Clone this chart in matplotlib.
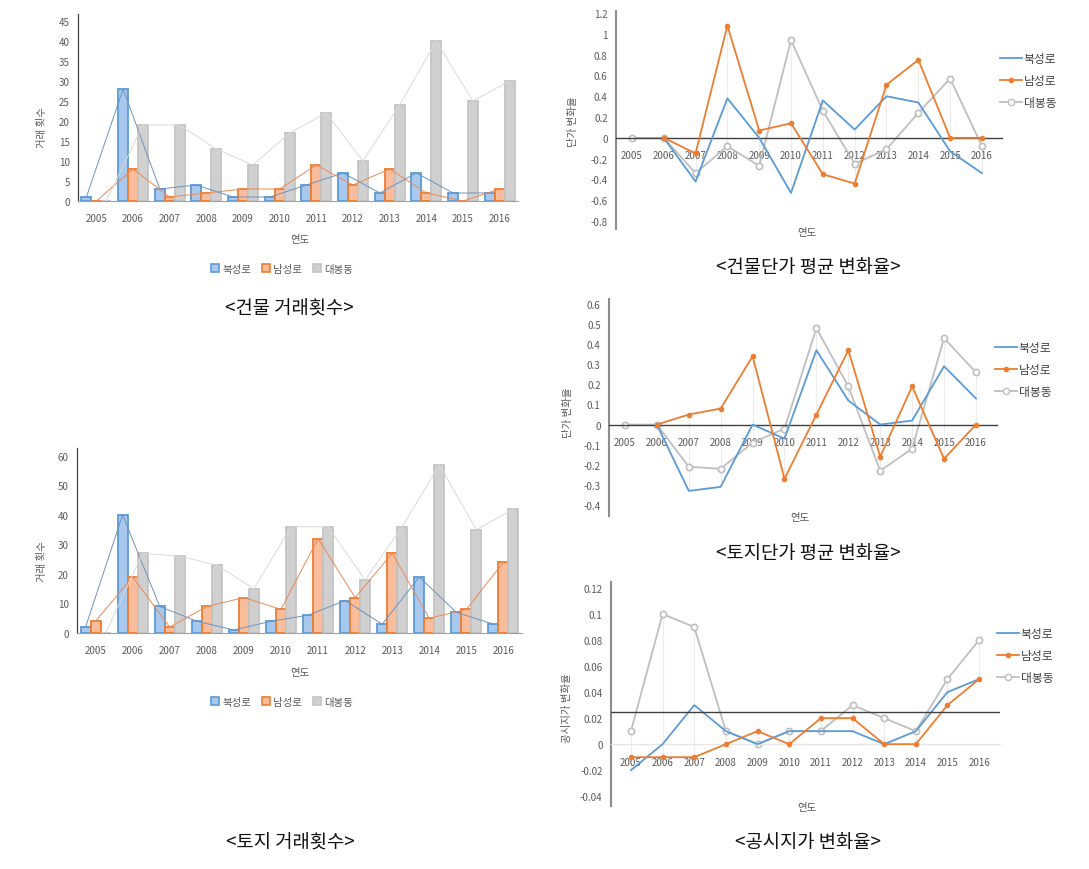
import matplotlib.pyplot as plt
import matplotlib.patches as patches
from matplotlib.lines import Line2D
import numpy as np

plt.rcParams['font.family'] = ['Noto Sans CJK KR', 'DejaVu Sans']

years = ['2005', '2006', '2007', '2008', '2009', '2010',
         '2011', '2012', '2013', '2014', '2015', '2016']
areas = ['북성로', '남성로', '대봉동']
nan = np.nan

# 건물 거래횟수
bld_cnt_buk = [1, 28, 3, 4, 1, 1, 4, 7, 2, 7, 2, 2]
bld_cnt_nam = [0, 8, 1, 2, 3, 3, 9, 4, 8, 2, 0, 3]
bld_cnt_dae = [0, 19, 19, 13, 9, 17, 22, 10, 24, 40, 25, 30]

# 토지 거래횟수
land_cnt_buk = [2, 40, 9, 4, 1, 4, 6, 11, 3, 19, 7, 3]
land_cnt_nam = [4, 19, 2, 9, 12, 8, 32, 12, 27, 5, 8, 24]
land_cnt_dae = [0, 27, 26, 23, 15, 36, 36, 18, 36, 57, 35, 42]

# 건물단가 평균 변화율
bld_rate_buk = [nan, 0, -0.42, 0.38, 0.0, -0.53, 0.36, 0.08, 0.40, 0.34, -0.13, -0.34]
bld_rate_nam = [nan, 0, -0.15, 1.08, 0.07, 0.14, -0.35, -0.44, 0.51, 0.75, 0, 0]
bld_rate_dae = [0, 0, -0.34, -0.08, -0.27, 0.94, 0.26, -0.25, -0.11, 0.24, 0.57, -0.08]

# 토지단가 평균 변화율
land_rate_buk = [nan, 0, -0.33, -0.31, 0.0, -0.07, 0.37, 0.12, 0.0, 0.02, 0.29, 0.13]
land_rate_nam = [nan, 0, 0.05, 0.08, 0.34, -0.27, 0.05, 0.37, -0.16, 0.19, -0.17, 0]
land_rate_dae = [0, 0, -0.21, -0.22, -0.09, -0.02, 0.48, 0.19, -0.23, -0.12, 0.43, 0.26]

# 공시지가 변화율
price_rate_buk = [-0.02, 0, 0.03, 0.01, 0, 0.01, 0.01, 0.01, 0, 0.01, 0.04, 0.05]
price_rate_nam = [-0.01, -0.01, -0.01, 0, 0.01, 0, 0.02, 0.02, 0, 0, 0.03, 0.05]
price_rate_dae = [0.01, 0.10, 0.09, 0.01, 0, 0.01, 0.01, 0.03, 0.02, 0.01, 0.05, 0.08]
price_ref_level = 0.0244

W, H = 1089, 870
fig = plt.figure(figsize=(W / 100, H / 100), dpi=100)

TXT = '#595959'
BLUE, ORANGE, GRAY = '#5b9bd5', '#ed7d31', '#bfbfbf'


def box(x0, y0, x1, y1):
    return [x0 / W, 1 - y1 / H, (x1 - x0) / W, (y1 - y0) / H]


def ftext(x, y, s, **kw):
    kw.setdefault('ha', 'center')
    kw.setdefault('va', 'center')
    fig.text(x / W, 1 - y / H, s, **kw)


def bar_chart(rect, series, ylim, ystep, ymax_tick):
    ax = fig.add_axes(rect)
    x = np.arange(len(years))
    fills = ['#a9c8ee', '#f9bd9c', '#d0d0d0']
    edges = [BLUE, ORANGE, '#c4c4c4']
    lines = ['#6f93bd', '#eb8a55', '#dadada']
    w = 0.27
    for i, vals in enumerate(series):
        off = (i - 1) * w
        ax.bar(x + off, vals, width=w, color=fills[i], edgecolor=edges[i],
               linewidth=1.3, zorder=2)
        ax.plot(x + off, vals, color=lines[i], lw=0.7, zorder=3)
    ax.set_xlim(-0.5, 11.5)
    ax.set_ylim(*ylim)
    ax.set_yticks(np.arange(0, ymax_tick + 1, ystep))
    ax.set_xticks(x)
    ax.set_xticklabels(years)
    ax.tick_params(length=0, labelsize=7, colors=TXT)
    ax.tick_params(axis='x', pad=9)
    ax.tick_params(axis='y', pad=6)
    for s in ['top', 'right']:
        ax.spines[s].set_visible(False)
    ax.spines['left'].set_color('#404040')
    ax.spines['left'].set_linewidth(0.9)
    ax.spines['bottom'].set_color('#a0a0a0')
    ax.patch.set_alpha(0)
    return ax


def bar_legend(cx, cy):
    fills = ['#a9c8ee', '#f9bd9c', '#d0d0d0']
    edges = [BLUE, ORANGE, '#c4c4c4']
    handles = [patches.Patch(facecolor=f, edgecolor=e, lw=1.2) for f, e in zip(fills, edges)]
    fig.legend(handles, areas, loc='center', bbox_to_anchor=(cx / W, 1 - cy / H),
               ncol=3, frameon=False, fontsize=7.5, handlelength=0.8, handleheight=0.8,
               handletextpad=0.3, columnspacing=1.0, labelcolor=TXT)


def line_chart(rect, series, xlim, ylim, yticks, fmt, zero_color, ref=None):
    ax = fig.add_axes(rect)
    x = np.arange(len(years))
    arr = np.array(series, dtype=float)
    ax.vlines(x, np.nanmin(arr, axis=0), np.nanmax(arr, axis=0), color='#ececec',
              lw=0.8, zorder=1)
    ax.plot(x, series[0], color=BLUE, lw=1.3, zorder=3)
    ax.plot(x, series[1], color=ORANGE, lw=1.3, marker='o', ms=3, zorder=4)
    ax.plot(x, series[2], color=GRAY, lw=1.3, marker='o', ms=4.5, mfc='white',
            mec=GRAY, mew=1.2, zorder=2)
    if ref is not None:
        ax.axhline(ref, color='#404040', lw=1.0, zorder=5)
    ax.set_xlim(*xlim)
    ax.set_ylim(*ylim)
    ax.set_yticks(yticks)
    ax.set_yticklabels([fmt(v) for v in yticks])
    ax.set_xticks(x)
    ax.set_xticklabels(years)
    ax.tick_params(length=0, labelsize=7, colors=TXT)
    ax.tick_params(axis='x', pad=9)
    ax.tick_params(axis='y', pad=6)
    for s in ['top', 'right']:
        ax.spines[s].set_visible(False)
    ax.spines['bottom'].set_position(('data', 0))
    ax.spines['bottom'].set_color(zero_color)
    ax.spines['bottom'].set_linewidth(1.0)
    ax.spines['left'].set_color('#8c8c8c')
    ax.spines['left'].set_linewidth(1.5)
    ax.patch.set_alpha(0)
    return ax


def line_legend(x, y):
    handles = [Line2D([], [], color=BLUE, lw=1.3),
               Line2D([], [], color=ORANGE, lw=1.3, marker='o', ms=3),
               Line2D([], [], color=GRAY, lw=1.3, marker='o', ms=4.5, mfc='white', mec=GRAY)]
    fig.legend(handles, areas, loc='upper left', bbox_to_anchor=(x / W, 1 - y / H),
               frameon=False, fontsize=8.5, handlelength=1.9, handletextpad=0.1,
               labelspacing=0.75, borderpad=0, borderaxespad=0, labelcolor='#404040')


def fmt_plain(v):
    s = ('%.2f' % v).rstrip('0').rstrip('.')
    return '0' if s in ('-0', '0') else s


# ---- 건물 거래횟수
bar_chart(box(78, 15, 518, 202), [bld_cnt_buk, bld_cnt_nam, bld_cnt_dae],
          (0, 46.75), 5, 45)
ftext(42, 128, '거래 횟수', rotation=90, fontsize=7.5, color=TXT)
ftext(300, 240, '연도', fontsize=7.5, color=TXT)
bar_legend(282, 270)

# ---- 토지 거래횟수
bar_chart(box(77, 449, 522, 634), [land_cnt_buk, land_cnt_nam, land_cnt_dae],
          (0, 62.7), 10, 60)
ftext(42, 562, '거래 횟수', rotation=90, fontsize=7.5, color=TXT)
ftext(300, 673, '연도', fontsize=7.5, color=TXT)
bar_legend(282, 703)

# ---- 건물단가 평균 변화율
line_chart(box(616, 12, 1002, 230), [bld_rate_buk, bld_rate_nam, bld_rate_dae],
           (-0.5, 11.63), (-0.877, 1.22), np.round(np.arange(-0.8, 1.21, 0.2), 1),
           fmt_plain, '#404040')
ftext(573, 122, '단가 변화율', rotation=90, fontsize=7.5, color=TXT)
ftext(807, 233, '연도', fontsize=7.5, color=TXT)
line_legend(1000, 53)

# ---- 토지단가 평균 변화율
line_chart(box(609, 300, 997, 517), [land_rate_buk, land_rate_nam, land_rate_dae],
           (-0.5, 11.66), (-0.455, 0.625), np.round(np.arange(-0.4, 0.61, 0.1), 1),
           fmt_plain, '#404040')
ftext(568, 413, '단가 변화율', rotation=90, fontsize=7.5, color=TXT)
ftext(800, 518, '연도', fontsize=7.5, color=TXT)
line_legend(995, 342)

# ---- 공시지가 변화율
line_chart(box(611, 583, 1000, 807), [price_rate_buk, price_rate_nam, price_rate_dae],
           (-0.63, 11.66), (-0.0475, 0.1246), np.round(np.arange(-0.04, 0.121, 0.02), 2),
           fmt_plain, '#e6e6e6', ref=price_ref_level)
ftext(567, 708, '공시지가 변화율', rotation=90, fontsize=7.5, color=TXT)
ftext(807, 808, '연도', fontsize=7.5, color=TXT)
line_legend(997, 628)

# ---- captions
cap = dict(fontsize=13.5, color='#111111')
ftext(289, 309, '<건물 거래횟수>', **cap)
ftext(808, 268, '<건물단가 평균 변화율>', **cap)
ftext(808, 553, '<토지단가 평균 변화율>', **cap)
ftext(290, 843, '<토지 거래횟수>', **cap)
ftext(808, 843, '<공시지가 변화율>', **cap)

fig.savefig('out.png', dpi=100)
